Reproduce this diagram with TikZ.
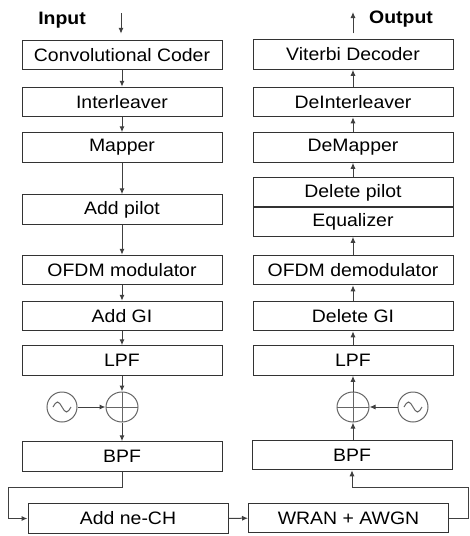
\documentclass[tikz,border=0pt]{standalone}
\usepackage{fontspec}
\setmainfont{Liberation Sans}[FakeStretch=1.08]
\usetikzlibrary{arrows.meta,shapes.geometric}

\begin{document}
\begin{tikzpicture}[%
        x = 1pt,
        y = -1pt,
        line width = 1pt,
        > = {Latex[length = 6pt, width = 5pt]},
        block/.style = {%
            draw = black!80,
            minimum width = 200pt,
            minimum height = 29.5pt,
            inner sep = 0pt,
            font = \fontsize{18}{20}\selectfont
        },
        label/.style = {%
            font = \fontsize{18}{20}\selectfont\bfseries
        },
        link/.style = {%
            draw = black!75,
            ->
        },
        mixer/.style = {%
            ellipse,
            draw = black!60,
            minimum width = 32pt,
            minimum height = 30pt,
            inner sep = 0pt,
            path picture = {%
                \draw[black!60]
                    (path picture bounding box.north) to
                    (path picture bounding box.south);
                \draw[black!60]
                    (path picture bounding box.west) to
                    (path picture bounding box.east);
            }
        },
        osc/.style = {%
            circle,
            draw = black!60,
            minimum size = 30pt,
            inner sep = 0pt,
            path picture = {%
                \draw[black!60]
                    ([xshift = -9pt] path picture bounding box.center)
                    sin ++(4.5pt, 5pt) cos ++(4.5pt, -5pt)
                    sin ++(4.5pt, -5pt) cos ++(4.5pt, 5pt);
            }
        }
    ]

        \useasboundingbox (0, 0) rectangle (470, 536);

        % Transmitter chain on the left.
        \node[label] (input) at (62, 20) {Input};
        \coordinate (inarrow) at (121, 13);
        \node[block] (coder) at (122, 55) {Convolutional Coder};
        \node[block] (inter) at (122, 102) {Interleaver};
        \node[block] (mapper) at (122, 147.5) {Mapper};
        \node[block] (pilot) at (122, 209.5) {Add pilot};
        \node[block] (ofdm) at (122, 270) {OFDM modulator};
        \node[block] (gi) at (122, 316) {Add GI};
        \node[block] (lpf) at (122, 360.5) {LPF};
        \node[mixer] (mix) at (122, 407) {};
        \node[osc] (lo) at (62, 407) {};
        \node[block] (bpf) at (122, 456.5) {BPF};

        \draw[link, shorten > = 6pt] (inarrow) to (inarrow |- coder.north);
        \draw[link] (coder) to (inter);
        \draw[link] (inter) to (mapper);
        \draw[link] (mapper) to (pilot);
        \draw[link] (pilot) to (ofdm);
        \draw[link] (ofdm) to (gi);
        \draw[link] (gi) to (lpf);
        \draw[link] (lpf) to (mix);
        \draw[link] (lo) to (mix);
        \draw[link] (mix) to (bpf);

        % Channel blocks along the bottom.
        \node[block] (channel) at (128, 518.5) {Add ne-CH};
        \node[block] (wran) at (348.5, 518) {WRAN + AWGN};
        \coordinate (lbend) at (8, 487);
        \coordinate (rbend) at (468, 487);

        \draw[link] (bpf.south) |- (lbend) |- (channel.west);
        \draw[link] (channel) to (wran);

        % Receiver chain on the right, read from bottom to top.
        \node[block] (bpfr) at (352, 455) {BPF};
        \node[mixer] (mixr) at (353, 407) {};
        \node[osc] (lor) at (413, 407) {};
        \node[block] (lpfr) at (353, 360.5) {LPF};
        \node[block] (delgi) at (353, 316) {Delete GI};
        \node[block] (ofdmr) at (353, 270) {OFDM demodulator};
        \node[block] (equal) at (353, 221.5) {Equalizer};
        \node[block] (delpilot) at (353, 192.5) {Delete pilot};
        \node[block] (demapper) at (353, 147.5) {DeMapper};
        \node[block] (deinter) at (353, 102) {DeInterleaver};
        \node[block] (viterbi) at (353, 54.5) {Viterbi Decoder};
        \coordinate (outarrow) at (353, 12);
        \node[label] (output) at (401, 19) {Output};

        \draw[link] (wran.east) -| (rbend) -| (bpfr.south);
        \draw[link] (bpfr.north -| mixr.south) to (mixr.south);
        \draw[link] (lor) to (mixr);
        \draw[link] (mixr) to (lpfr);
        \draw[link] (lpfr) to (delgi);
        \draw[link] (delgi) to (ofdmr);
        \draw[link] (ofdmr) to (equal);
        \draw[link] (delpilot) to (demapper);
        \draw[link] (demapper) to (deinter);
        \draw[link] (deinter) to (viterbi);
        \draw[link, shorten < = 6pt] (viterbi) to (outarrow);
    \end{tikzpicture}
\end{document}
